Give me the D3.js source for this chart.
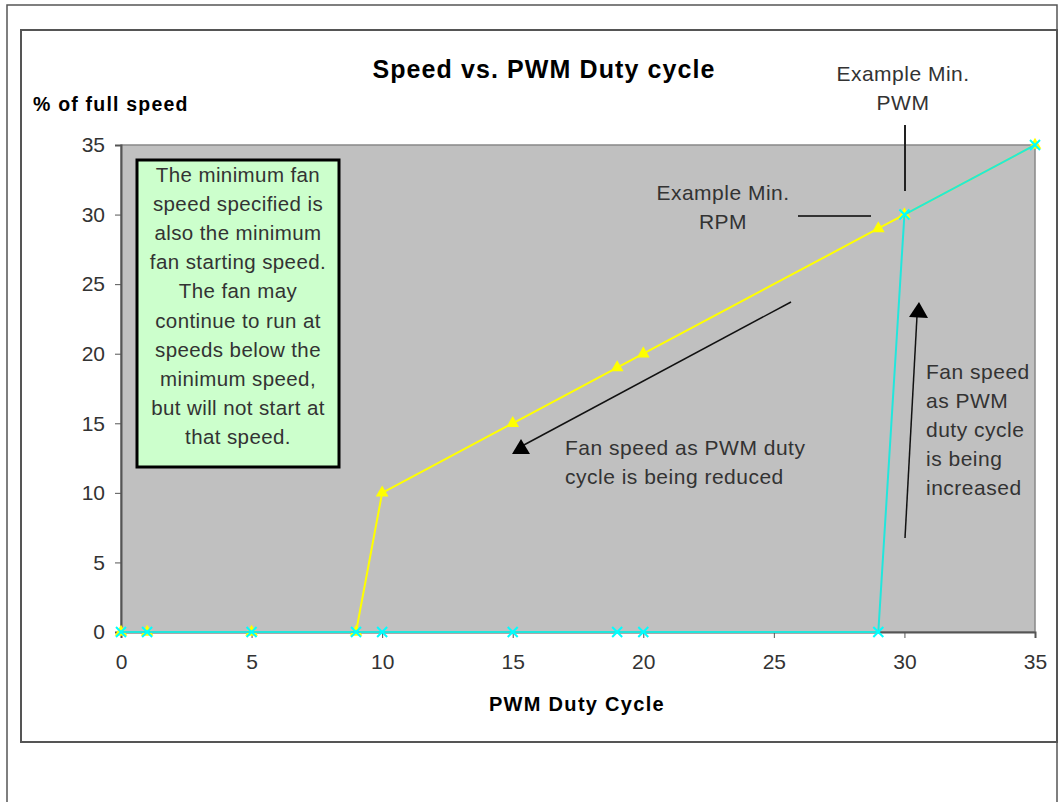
<!DOCTYPE html>
<html>
<head>
<meta charset="utf-8">
<script src="https://cdn.jsdelivr.net/npm/d3@7"></script>
<style>
  body { margin: 0; background: #fff; }
  text { font-family: "Liberation Sans", Arial, sans-serif; }
</style>
</head>
<body>
<svg id="chart" width="1060" height="802"></svg>
<script>
// series
const decreasingX = [35, 30, 29, 20, 19, 15, 10, 9, 5, 1, 0];
const decreasingY = [35, 30, 29, 20, 19, 15, 10, 0, 0, 0, 0];
const increasingX = [0, 1, 5, 9, 10, 15, 19, 20, 29, 30, 35];
const increasingY = [0, 0, 0, 0, 0, 0, 0, 0, 0, 30, 35];
const xTicks = [0, 5, 10, 15, 20, 25, 30, 35];
const yTicks = [0, 5, 10, 15, 20, 25, 30, 35];
const noteLines = ["The minimum fan", "speed specified is", "also the minimum",
  "fan starting speed.", "The fan may", "continue to run at", "speeds below the",
  "minimum speed,", "but will not start at", "that speed."];
const reducedLines = ["Fan speed as PWM duty", "cycle is being reduced"];
const increasedLines = ["Fan speed", "as PWM", "duty cycle", "is being", "increased"];

const svg = d3.select("#chart");
const margins = { top: 145, right: 25, bottom: 170, left: 121 };
const width = 1060, height = 802;

// outer frames
svg.append("rect").attr("x", 7).attr("y", 5).attr("width", 1050).attr("height", 820)
  .attr("fill", "none").attr("stroke", "#555").attr("stroke-width", 1.5);
svg.append("rect").attr("x", 21).attr("y", 30).attr("width", 1036).attr("height", 712)
  .attr("fill", "none").attr("stroke", "#555").attr("stroke-width", 2);

const x = d3.scaleLinear().domain([0, 35]).range([margins.left, width - margins.right]);
const y = d3.scaleLinear().domain([0, 35]).range([height - margins.bottom, margins.top]);

// plot area
svg.append("rect")
  .attr("x", x(0)).attr("y", y(35))
  .attr("width", x(35) - x(0)).attr("height", y(0) - y(35))
  .attr("fill", "#c0c0c0").attr("stroke", "#888").attr("stroke-width", 1.5);

const yAxis = svg.append("g")
  .attr("transform", `translate(${x(0)},0)`)
  .call(d3.axisLeft(y).tickValues(yTicks).tickSize(6).tickPadding(10));
const xAxis = svg.append("g")
  .attr("transform", `translate(0,${y(0)})`)
  .call(d3.axisBottom(x).tickValues(xTicks).tickSize(6).tickPadding(16));
[xAxis, yAxis].forEach(g => {
  g.select(".domain").attr("stroke", "#555").attr("stroke-width", 2);
  g.selectAll(".tick line").attr("stroke", "#555");
  g.selectAll("text").attr("font-size", 21).attr("fill", "#333")
    .attr("font-family", "Liberation Sans, Arial, sans-serif");
});

// titles
svg.append("text").attr("x", 544).attr("y", 78).attr("text-anchor", "middle")
  .attr("font-size", 25).attr("font-weight", "bold").attr("letter-spacing", 1.1)
  .text("Speed vs. PWM Duty cycle");
svg.append("text").attr("x", 33).attr("y", 111)
  .attr("font-size", 19.5).attr("font-weight", "bold").attr("letter-spacing", 1.2)
  .text("% of full speed");
svg.append("text").attr("x", 577).attr("y", 711).attr("text-anchor", "middle")
  .attr("font-size", 20).attr("font-weight", "bold").attr("letter-spacing", 1.3)
  .text("PWM Duty Cycle");

// series
const decData = decreasingX.map((v, i) => [v, decreasingY[i]]);
const incData = increasingX.map((v, i) => [v, increasingY[i]]);
const line = d3.line().x(d => x(d[0])).y(d => y(d[1]));

svg.append("path").datum(decData).attr("d", line)
  .attr("fill", "none").attr("stroke", "#ffff00").attr("stroke-width", 2);
svg.append("g").selectAll("path").data(decData).join("path")
  .attr("transform", d => `translate(${x(d[0])},${y(d[1])})`)
  .attr("d", d3.symbol(d3.symbolTriangle, 70))
  .attr("fill", "#ffff00");

svg.append("path").datum(incData).attr("d", line)
  .attr("fill", "none").attr("stroke", "#22e6dc").attr("stroke-width", 2);
svg.append("g").selectAll("path").data(incData).join("path")
  .attr("transform", d => `translate(${x(d[0])},${y(d[1])})`)
  .attr("d", "M-5,-5L5,5M-5,5L5,-5")
  .attr("stroke", "#00ffff").attr("stroke-width", 2);

// note box
svg.append("rect").attr("x", 137).attr("y", 160).attr("width", 202).attr("height", 307)
  .attr("fill", "#ccffcc").attr("stroke", "#000").attr("stroke-width", 3);
svg.append("g").selectAll("text").data(noteLines).join("text")
  .attr("x", 238).attr("y", (d, i) => 181.5 + i * 29.2)
  .attr("text-anchor", "middle").attr("font-size", 20.5).attr("letter-spacing", 0.4)
  .attr("fill", "#333")
  .text(d => d);

// annotations
const labelStyle = sel => sel.attr("font-size", 21).attr("letter-spacing", 0.5).attr("fill", "#333");
svg.append("g").selectAll("text").data(["Example Min.", "PWM"]).join("text")
  .attr("x", 903).attr("y", (d, i) => 81 + i * 29).attr("text-anchor", "middle")
  .call(labelStyle).text(d => d);
svg.append("line").attr("x1", 905).attr("y1", 125).attr("x2", 905).attr("y2", 191)
  .attr("stroke", "#222").attr("stroke-width", 2);

svg.append("g").selectAll("text").data(["Example Min.", "RPM"]).join("text")
  .attr("x", 723).attr("y", (d, i) => 199.5 + i * 29).attr("text-anchor", "middle")
  .call(labelStyle).text(d => d);
svg.append("line").attr("x1", 798).attr("y1", 216).attr("x2", 871).attr("y2", 216)
  .attr("stroke", "#333").attr("stroke-width", 2);

svg.append("g").selectAll("text").data(reducedLines).join("text")
  .attr("x", 565).attr("y", (d, i) => 455 + i * 29)
  .call(labelStyle).text(d => d);
svg.append("g").selectAll("text").data(increasedLines).join("text")
  .attr("x", 926).attr("y", (d, i) => 378.5 + i * 29.2)
  .call(labelStyle).text(d => d);

// arrows
svg.append("line").attr("x1", 791).attr("y1", 302).attr("x2", 522).attr("y2", 446)
  .attr("stroke", "#111").attr("stroke-width", 1.5);
svg.append("path").attr("d", "M521,439L530,454L512,454Z").attr("fill", "#000");
svg.append("line").attr("x1", 905).attr("y1", 538).attr("x2", 917).attr("y2", 316)
  .attr("stroke", "#111").attr("stroke-width", 1.5);
svg.append("path").attr("d", "M919,302L928,318L909,317Z").attr("fill", "#000");
</script>
</body>
</html>
